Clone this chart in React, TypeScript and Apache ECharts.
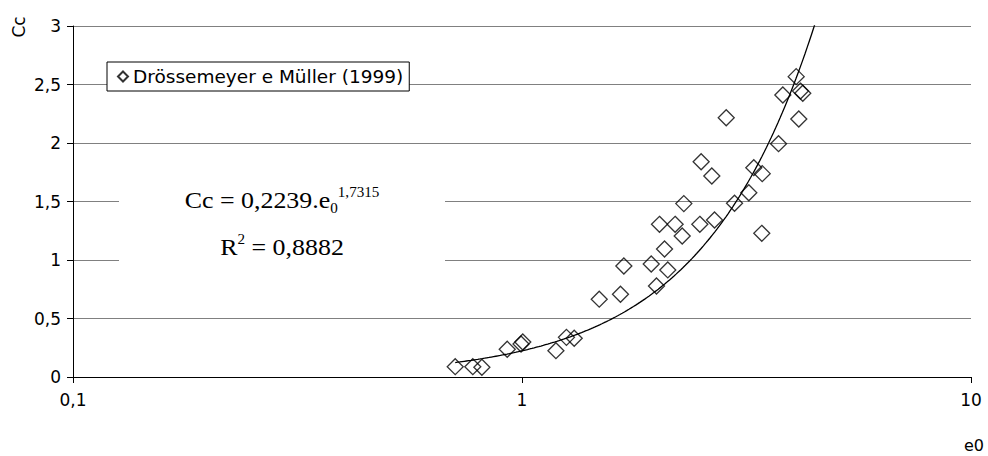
import { useEffect, useRef } from "react";
import * as echarts from "echarts";

// Void ratio e0 versus compression index Cc
const E0 = [
  0.71, 0.777, 0.814, 0.927, 0.995, 1.004, 1.19, 1.256, 1.307, 1.486, 1.657, 1.686,
  1.94, 1.993, 2.112, 2.077, 2.024, 2.193, 2.274, 2.489, 2.293, 2.684, 2.506, 2.647,
  2.85, 2.974, 3.2, 3.283, 3.428, 3.42, 3.727, 3.81, 4.08, 4.17, 4.22, 4.135,
];
const CC = [
  0.088, 0.088, 0.083, 0.237, 0.282, 0.299, 0.225, 0.339, 0.331, 0.665, 0.707, 0.949,
  0.966, 0.778, 0.915, 1.094, 1.305, 1.305, 1.205, 1.305, 1.482, 1.342, 1.84, 1.718,
  2.216, 1.485, 1.575, 1.789, 1.738, 1.228, 1.994, 2.41, 2.567, 2.444, 2.425, 2.205,
];

const SERIES_NAME = "Drössemeyer e Müller (1999)";

// Power trendline Cc = a · e0^b
const TREND_A = 0.2239;
const TREND_B = 1.7315;
const R2_TEXT = "0,8882";

const X_MIN = 0.1;
const X_MAX = 10;
const Y_MIN = 0;
const Y_MAX = 3;
const Y_STEP = 0.5;

const SANS = "DejaVu Sans";
const SERIF = "Liberation Serif";

const comma = (v: number) => String(+v.toFixed(4)).replace(".", ",");

export default function App() {
  const ref = useRef<HTMLDivElement>(null);

  useEffect(() => {
    document.body.style.margin = "0";
    document.body.style.overflow = "hidden";
    if (!ref.current) return;
    const chart = echarts.init(ref.current, undefined, { renderer: "svg" });

    const points = E0.map((x, i) => [x, CC[i]]);

    // trendline from the smallest e0 up to where it leaves the top of the plot
    const tStart = Math.min(...E0);
    const tEnd = Math.pow(Y_MAX / TREND_A, 1 / TREND_B) * 1.01;
    const steps = 160;
    const trend: number[][] = [];
    for (let i = 0; i <= steps; i++) {
      const x = tStart * Math.pow(tEnd / tStart, i / steps);
      trend.push([x, TREND_A * Math.pow(x, TREND_B)]);
    }

    chart.setOption({
      animation: false,
      textStyle: { fontFamily: SANS },
      grid: { left: 73, right: 17, top: 26, bottom: 79, containLabel: false },
      legend: {
        data: [SERIES_NAME],
        left: 107,
        top: 62,
        orient: "horizontal",
        backgroundColor: "#fff",
        borderColor: "#000",
        borderWidth: 1,
        borderRadius: 0,
        padding: [5, 6, 5, 10],
        itemWidth: 10,
        itemHeight: 10,
        textStyle: { fontFamily: SANS, fontSize: 18.5, color: "#000" },
      },
      xAxis: {
        type: "log",
        logBase: 10,
        min: X_MIN,
        max: X_MAX,
        axisLine: { show: true, lineStyle: { color: "#000", width: 1 } },
        axisTick: { show: true, inside: false, length: 6, lineStyle: { color: "#000" } },
        minorTick: { show: false },
        splitLine: { show: false },
        axisLabel: {
          color: "#000",
          fontFamily: SANS,
          fontSize: 17,
          margin: 14,
          formatter: (v: number) => comma(v),
        },
      },
      yAxis: {
        type: "value",
        min: Y_MIN,
        max: Y_MAX,
        interval: Y_STEP,
        axisLine: { show: true, lineStyle: { color: "#000", width: 1 } },
        axisTick: { show: true, inside: false, length: 6, lineStyle: { color: "#000" } },
        splitLine: { show: true, lineStyle: { color: "#808080", width: 1 } },
        axisLabel: {
          color: "#000",
          fontFamily: SANS,
          fontSize: 17,
          margin: 12,
          formatter: (v: number) => comma(v),
        },
      },
      series: [
        {
          name: SERIES_NAME,
          type: "scatter",
          symbol: "diamond",
          symbolSize: 16,
          data: points,
          itemStyle: { color: "rgba(0,0,0,0)", borderColor: "#000", borderWidth: 1.3 },
          z: 3,
        },
        {
          name: "trend",
          type: "line",
          data: trend,
          showSymbol: false,
          smooth: false,
          clip: true,
          lineStyle: { color: "#000", width: 1.3 },
          z: 2,
          silent: true,
        },
      ],
      graphic: [
        {
          type: "rect",
          z: 50,
          shape: { x: 119, y: 165, width: 326, height: 120 },
          style: { fill: "#fff" },
        },
        {
          type: "text",
          z: 60,
          x: 282,
          y: 200,
          scaleX: 1.08,
          style: {
            text: "{m|Cc = 0,2239.e}{sub|0}{sup|" + comma(TREND_B) + "}",
            x: 0,
            y: 0,
            textAlign: "center",
            textVerticalAlign: "middle",
            fill: "#000",
            rich: {
              m: { fontFamily: SERIF, fontSize: 24, lineHeight: 30, fill: "#000" },
              sub: { fontFamily: SERIF, fontSize: 14, lineHeight: 14, verticalAlign: "bottom", fill: "#000" },
              sup: { fontFamily: SERIF, fontSize: 14, lineHeight: 14, verticalAlign: "top", fill: "#000" },
            },
          },
        },
        {
          type: "text",
          z: 60,
          x: 282,
          y: 247,
          scaleX: 1.08,
          style: {
            text: "{m|R}{sup|2}{m| = " + R2_TEXT + "}",
            x: 0,
            y: 0,
            textAlign: "center",
            textVerticalAlign: "middle",
            fill: "#000",
            rich: {
              m: { fontFamily: SERIF, fontSize: 24, lineHeight: 30, fill: "#000" },
              sup: { fontFamily: SERIF, fontSize: 14, lineHeight: 16, verticalAlign: "top", fill: "#000" },
            },
          },
        },
        {
          type: "text",
          x: 19,
          y: 27,
          rotation: Math.PI / 2,
          style: {
            text: "Cc",
            x: 0,
            y: 0,
            textAlign: "center",
            textVerticalAlign: "middle",
            fontFamily: SANS,
            fontSize: 17,
            fill: "#000",
          },
        },
        {
          type: "text",
          x: 974,
          y: 445,
          style: {
            text: "e0",
            x: 0,
            y: 0,
            textAlign: "center",
            textVerticalAlign: "middle",
            fontFamily: SANS,
            fontSize: 16,
            fill: "#000",
          },
        },
      ],
    });

    return () => chart.dispose();
  }, []);

  return <div ref={ref} style={{ width: 988, height: 456 }} />;
}
